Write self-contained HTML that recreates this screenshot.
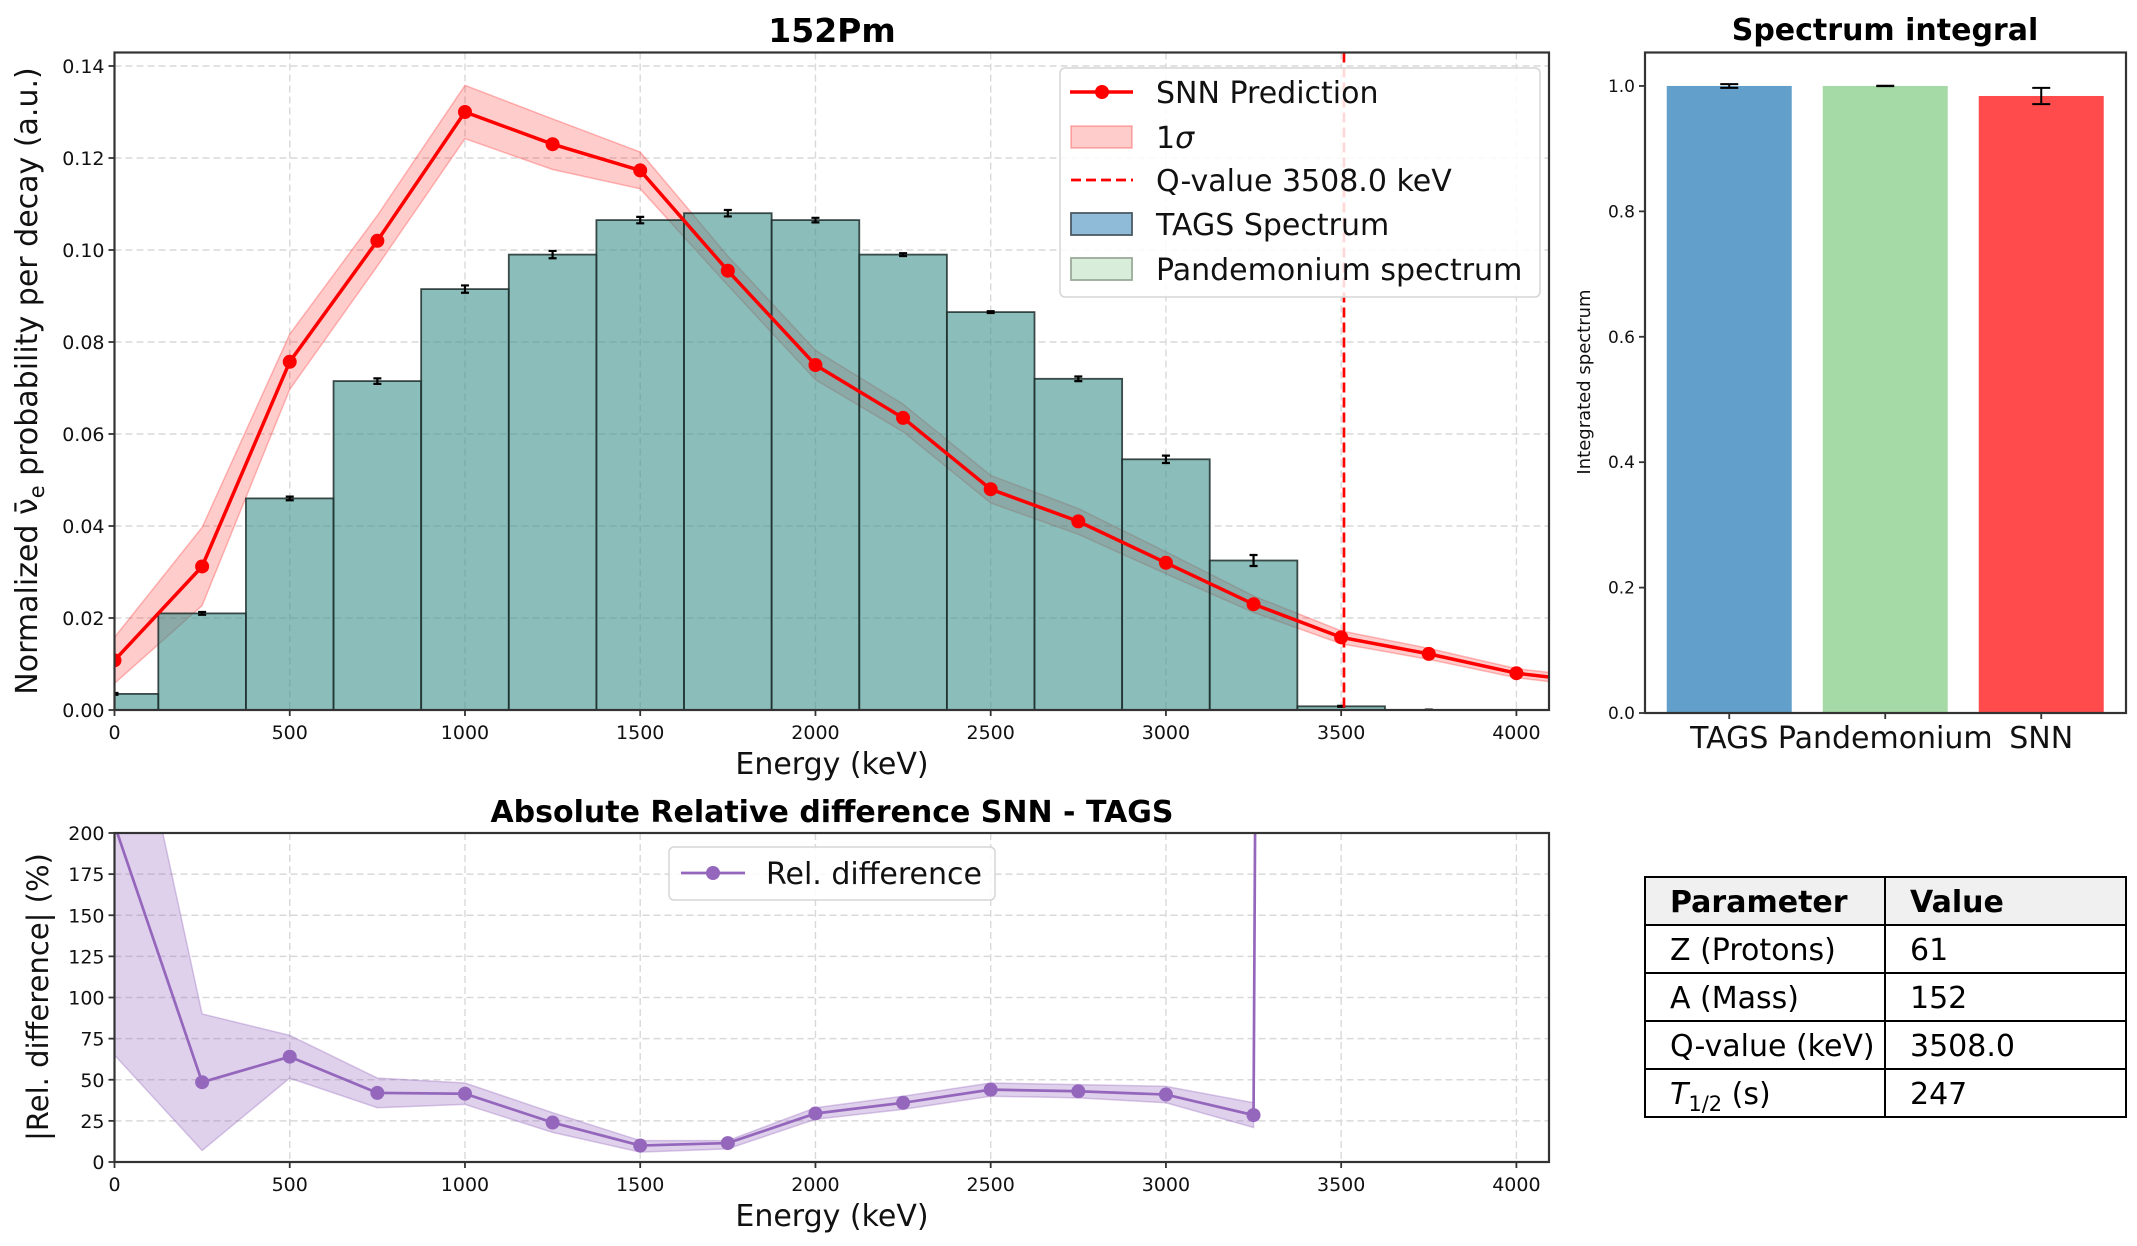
<!DOCTYPE html>
<html><head><meta charset="utf-8"><style>
html,body{margin:0;padding:0;background:#fff;}
svg{display:block;font-family:"DejaVu Sans","Liberation Sans",sans-serif;}
</style></head><body>
<svg id="fig" width="2137" height="1246" viewBox="0 0 2137 1246" xmlns="http://www.w3.org/2000/svg"></svg>
<script>
// ---- data ----
const energies = [0,250,500,750,1000,1250,1500,1750,2000,2250,2500,2750,3000,3250,3500,3750,4000,4250];
const snnValues = [0.0108,0.0312,0.0757,0.102,0.130,0.123,0.1173,0.0955,0.075,0.0635,0.048,0.041,0.032,0.023,0.0158,0.0122,0.008,0.0058];
const snnSigma = [0.005,0.0085,0.006,0.0055,0.0058,0.0055,0.004,0.0032,0.0032,0.003,0.003,0.0028,0.0024,0.0018,0.0014,0.0012,0.001,0.001];
const tagsCenters = [0,250,500,750,1000,1250,1500,1750,2000,2250,2500,2750,3000,3250,3500,3750];
const tagsValues = [0.0035,0.021,0.046,0.0715,0.0915,0.099,0.1065,0.108,0.1065,0.099,0.0865,0.072,0.0545,0.0325,0.0008,0.0];
const tagsErr = [0.0002,0.0003,0.0004,0.0006,0.0008,0.0008,0.0007,0.0007,0.0005,0.0003,0.0002,0.0005,0.0008,0.0012,0.0001,0.0001];
const mainYTicks = [0,0.02,0.04,0.06,0.08,0.10,0.12,0.14];
const mainYTickLabels = ["0.00","0.02","0.04","0.06","0.08","0.10","0.12","0.14"];
const xTicks = [0,500,1000,1500,2000,2500,3000,3500,4000];
const qValue = 3508;
const relEnergies = [0,250,500,750,1000,1250,1500,1750,2000,2250,2500,2750,3000,3250,3500];
const relValues = [205,48.5,64,42,41.5,24,10,11.5,29.5,36,44,43,41,28.5,10000];
const relLower = [65,7,51,33,35,18,6,8,26,32,40,39,36,21,9000];
const relUpper = [335,90,77,51,48,30,13,13,33,40,48,47,46,36,11000];
const relYTicks = [0,25,50,75,100,125,150,175,200];
const intCategories = ["TAGS","Pandemonium","SNN"];
const intValues = [1.0,1.0,0.984];
const intErr = [0.003,0.0003,0.013];
const intColors = ["#629fca","#a5d9a5","#ff4b4b"];
const intYTicks = [0,0.2,0.4,0.6,0.8,1.0];
const intYTickLabels = ["0.0","0.2","0.4","0.6","0.8","1.0"];

const NS="http://www.w3.org/2000/svg";
const svg=document.getElementById('fig');
function mk(tag,attrs,parent){const e=document.createElementNS(NS,tag);for(const k in attrs)e.setAttribute(k,attrs[k]);(parent||svg).appendChild(e);return e;}
function txt(s,attrs,parent){const e=mk('text',attrs,parent);e.textContent=s;return e;}

// ---- main axes ----
const M={l:114.5,r:1549,t:52.5,b:710};
const xS=v=>M.l+(v-0)*(M.r-M.l)/4093;
const yS=v=>M.b-(v/0.14)*(M.b-66);
const gMain=mk('g',{});


const clip=mk('clipPath',{id:'cm'},gMain);mk('rect',{x:M.l,y:M.t,width:M.r-M.l,height:M.b-M.t},clip);
xTicks.forEach(t=>{const l=mk('line',{x1:xS(t),x2:xS(t),y1:M.t,y2:M.b,stroke:'#d9d9d9','stroke-width':1.4,'stroke-dasharray':'7,4'},gMain);
});
mainYTicks.forEach(t=>{const l=mk('line',{x1:M.l,x2:M.r,y1:yS(t),y2:yS(t),stroke:'#d9d9d9','stroke-width':1.4,'stroke-dasharray':'7,4'},gMain);
});
const plotArea=mk('g',{'clip-path':'url(#cm)'},gMain);
let up='',lo='';
energies.forEach((e,i)=>{up+=(i?'L':'M')+xS(e)+','+yS(snnValues[i]+snnSigma[i]);});
for(let i=energies.length-1;i>=0;i--){lo+='L'+xS(energies[i])+','+yS(snnValues[i]-snnSigma[i]);}
const band=mk('path',{d:up+lo+'Z',fill:'rgba(255,0,0,0.2)',stroke:'rgba(255,0,0,0.25)','stroke-width':1.5},plotArea);

tagsCenters.forEach((c,i)=>{
 const x0=xS(c-125),x1=xS(c+125),y=yS(tagsValues[i]);
 const r=mk('rect',{x:x0,y:y,width:x1-x0,height:M.b-y,fill:'rgb(62,145,140)','fill-opacity':0.6,stroke:'#1f2f2d','stroke-opacity':0.85,'stroke-width':1.8},plotArea);
 
 const ex=xS(c),e1=yS(tagsValues[i]+tagsErr[i]),e2=yS(tagsValues[i]-tagsErr[i]);
 const eb=mk('path',{d:`M${ex},${e1}L${ex},${e2}M${ex-4},${e1}L${ex+4},${e1}M${ex-4},${e2}L${ex+4},${e2}`,stroke:'#000','stroke-width':2.2,fill:'none'},plotArea);
 
});
let lp='';energies.forEach((e,i)=>{lp+=(i?'L':'M')+xS(e)+','+yS(snnValues[i]);});
const ln=mk('path',{d:lp,fill:'none',stroke:'#ff0000','stroke-width':3.5},plotArea);

energies.forEach((e,i)=>{const c=mk('circle',{cx:xS(e),cy:yS(snnValues[i]),r:7,fill:'#ff0000'},plotArea);
});
const ql=mk('line',{x1:xS(qValue),x2:xS(qValue),y1:M.t,y2:M.b,stroke:'#ff0000','stroke-width':2.7,'stroke-dasharray':'10,5'},plotArea);

const fr=mk('rect',{x:M.l,y:M.t,width:M.r-M.l,height:M.b-M.t,fill:'none',stroke:'#333','stroke-width':2.2},gMain);

xTicks.forEach(t=>{mk('line',{x1:xS(t),x2:xS(t),y1:M.b,y2:M.b+6,stroke:'#333','stroke-width':1.8},gMain);
const l=txt(String(t),{x:xS(t),y:M.b+29,'font-size':19,'text-anchor':'middle',fill:'#111'},gMain);});
mainYTicks.forEach((t,i)=>{mk('line',{x1:M.l-6,x2:M.l,y1:yS(t),y2:yS(t),stroke:'#333','stroke-width':1.8},gMain);
const l=txt(mainYTickLabels[i],{x:M.l-10,y:yS(t)+7,'font-size':19,'text-anchor':'end',fill:'#111'},gMain);});
const lg=mk('g',{},gMain);
mk('rect',{x:1060,y:68,width:480,height:229,rx:5,fill:'rgba(255,255,255,0.85)',stroke:'#d6d6d6','stroke-width':1.5},lg);
mk('line',{x1:1070,x2:1133,y1:92,y2:92,stroke:'#f00','stroke-width':3.5},lg);mk('circle',{cx:1102,cy:92,r:7,fill:'#f00'},lg);
mk('rect',{x:1071,y:126,width:61,height:22,fill:'rgba(255,0,0,0.2)',stroke:'rgba(255,0,0,0.3)','stroke-width':1.5},lg);
mk('line',{x1:1071,x2:1133,y1:180,y2:180,stroke:'#f00','stroke-width':2.7,'stroke-dasharray':'10,5'},lg);
mk('rect',{x:1071,y:213,width:61,height:22,fill:'#8fbbd9',stroke:'#4a5a66','stroke-width':1.8},lg);
mk('rect',{x:1071,y:258,width:61,height:22,fill:'#d9eeda',stroke:'#9aaa9a','stroke-width':1.8},lg);
[['SNN Prediction',92],['1σ',137],['Q-value 3508.0 keV',180],['TAGS Spectrum',224],['Pandemonium spectrum',269]].forEach(([s,y],i)=>{
 const t=txt('',{x:1156,y:y+11,'font-size':30,fill:'#111'},lg);
 
 if(i===1){const a=mk('tspan',{},t);a.textContent='1';const b=mk('tspan',{'font-style':'italic'},t);b.textContent='σ';}else t.textContent=s;});
let t1=txt('152Pm',{x:832,y:42,'font-size':33,'font-weight':'bold','text-anchor':'middle'},gMain);
t1=txt('Energy (keV)',{x:832,y:774,'font-size':30,'text-anchor':'middle',fill:'#111'},gMain);
t1=mk('text',{x:0,y:0,'font-size':30,'text-anchor':'middle',fill:'#111',transform:'translate(37,381) rotate(-90)'},gMain);

t1.appendChild(document.createTextNode('Normalized ν\u0304'));
{const s=mk('tspan',{'font-size':21,dy:7},t1);s.textContent='e';const s2=mk('tspan',{dy:-7},t1);s2.textContent=' probability per decay (a.u.)';}

// ---- relative difference axes ----
const R={l:114.5,r:1549,t:833,b:1162};
const ryS=v=>R.b-(v/200)*(R.b-R.t);
const gRel=mk('g',{});
const clip2=mk('clipPath',{id:'cr'},gRel);mk('rect',{x:R.l,y:R.t,width:R.r-R.l,height:R.b-R.t},clip2);
xTicks.forEach(t=>{const l=mk('line',{x1:xS(t),x2:xS(t),y1:R.t,y2:R.b,stroke:'#d9d9d9','stroke-width':1.4,'stroke-dasharray':'7,4'},gRel);});
relYTicks.forEach(t=>{const l=mk('line',{x1:R.l,x2:R.r,y1:ryS(t),y2:ryS(t),stroke:'#d9d9d9','stroke-width':1.4,'stroke-dasharray':'7,4'},gRel);});
const pa2=mk('g',{'clip-path':'url(#cr)'},gRel);
let u2='',l2='';relEnergies.forEach((e,i)=>{u2+=(i?'L':'M')+xS(e)+','+ryS(relUpper[i]);});
for(let i=relEnergies.length-1;i>=0;i--)l2+='L'+xS(relEnergies[i])+','+ryS(relLower[i]);
const b2=mk('path',{d:u2+l2+'Z',fill:'rgba(148,103,189,0.3)',stroke:'rgba(148,103,189,0.35)','stroke-width':1.5},pa2);

let p2='';relEnergies.forEach((e,i)=>{p2+=(i?'L':'M')+xS(e)+','+ryS(relValues[i]);});
const ln2=mk('path',{d:p2,fill:'none',stroke:'#9467bd','stroke-width':2.7},pa2);
relEnergies.forEach((e,i)=>{const c=mk('circle',{cx:xS(e),cy:ryS(relValues[i]),r:7,fill:'#9467bd'},pa2);});
const fr2=mk('rect',{x:R.l,y:R.t,width:R.r-R.l,height:R.b-R.t,fill:'none',stroke:'#333','stroke-width':2.2},gRel);
xTicks.forEach(t=>{mk('line',{x1:xS(t),x2:xS(t),y1:R.b,y2:R.b+6,stroke:'#333','stroke-width':1.8},gRel);
const l=txt(String(t),{x:xS(t),y:R.b+29,'font-size':19,'text-anchor':'middle',fill:'#111'},gRel);});
relYTicks.forEach(t=>{mk('line',{x1:R.l-6,x2:R.l,y1:ryS(t),y2:ryS(t),stroke:'#333','stroke-width':1.8},gRel);
const l=txt(String(t),{x:R.l-10,y:ryS(t)+7,'font-size':19,'text-anchor':'end',fill:'#111'},gRel);});
const lg2=mk('g',{},gRel);
mk('rect',{x:669,y:847,width:326,height:53,rx:5,fill:'rgba(255,255,255,0.85)',stroke:'#d6d6d6','stroke-width':1.5},lg2);
mk('line',{x1:681,x2:745,y1:873,y2:873,stroke:'#9467bd','stroke-width':2.7},lg2);mk('circle',{cx:713,cy:873,r:7,fill:'#9467bd'},lg2);
let t2=txt('Rel. difference',{x:766,y:884,'font-size':30,fill:'#111'},lg2);
t2=txt('Absolute Relative difference SNN - TAGS',{x:832,y:822,'font-size':30,'font-weight':'bold','text-anchor':'middle'},gRel);
t2=txt('Energy (keV)',{x:832,y:1226,'font-size':30,'text-anchor':'middle',fill:'#111'},gRel);
t2=txt('|Rel. difference| (%)',{x:0,y:0,'font-size':29,'text-anchor':'middle',fill:'#111',transform:'translate(48,997) rotate(-90)'},gRel);

// ---- integral bar chart ----
const I={l:1645,r:2126,t:52.5,b:713};
const iyS=v=>I.b-(v/1.05)*(I.b-54.6);
const ixS=i=>I.l+(i+0.54)*156;
const gInt=mk('g',{});
intCategories.forEach((c,i)=>{
 const x=ixS(i),y=iyS(intValues[i]);
 const r=mk('rect',{x:x-62.5,y:y,width:125,height:I.b-y,fill:intColors[i]},gInt);
 const e1=iyS(intValues[i]+intErr[i]),e2=iyS(intValues[i]-intErr[i]);
 const eb=mk('path',{d:`M${x},${e1}L${x},${e2}M${x-9},${e1}L${x+9},${e1}M${x-9},${e2}L${x+9},${e2}`,stroke:'#000','stroke-width':2,fill:'none'},gInt);
 mk('line',{x1:x,x2:x,y1:I.b,y2:I.b+6,stroke:'#333','stroke-width':1.8},gInt);
 const l=txt(c,{x:x,y:I.b+35,'font-size':30,'text-anchor':'middle',fill:'#111'},gInt);
});
intYTicks.forEach((t,i)=>{mk('line',{x1:I.l-6,x2:I.l,y1:iyS(t),y2:iyS(t),stroke:'#333','stroke-width':1.8},gInt);
const l=txt(intYTickLabels[i],{x:I.l-10,y:iyS(t)+6,'font-size':17,'text-anchor':'end',fill:'#111'},gInt);});
const fr3=mk('rect',{x:I.l,y:I.t,width:I.r-I.l,height:I.b-I.t,fill:'none',stroke:'#333','stroke-width':2.2},gInt);
let t3=txt('Spectrum integral',{x:1885,y:40,'font-size':30,'font-weight':'bold','text-anchor':'middle'},gInt);
t3=txt('Integrated spectrum',{x:0,y:0,'font-size':18,'text-anchor':'middle',fill:'#111',transform:'translate(1590,382) rotate(-90)'},gInt);

// ---- parameter table ----
const gT=mk('g',{});
const rowsY=[877,925,973,1021,1069,1117];
mk('rect',{x:1645,y:877,width:481,height:48,fill:'#f0f0f0'},gT);
for(let i=0;i<5;i++){mk('rect',{x:1645,y:rowsY[i],width:240,height:48,fill:'none',stroke:'#000','stroke-width':2},gT);mk('rect',{x:1885,y:rowsY[i],width:241,height:48,fill:'none',stroke:'#000','stroke-width':2},gT);}
const cells=[['Parameter','Value'],['Z (Protons)','61'],['A (Mass)','152'],['Q-value (keV)','3508.0'],['T','247']];
cells.forEach((r,i)=>{
 const y=rowsY[i]+35;
 const a=txt('',{x:1670,y:y,'font-size':30,fill:'#000','font-weight':i===0?'bold':'normal'},gT);
 
 if(i===4){const s1=mk('tspan',{'font-style':'italic'},a);s1.textContent='T';const s2=mk('tspan',{'font-size':21,dy:7},a);s2.textContent='1/2';const s3=mk('tspan',{dy:-7},a);s3.textContent=' (s)';}
 else a.textContent=r[0];
 const b=txt(r[1],{x:1910,y:y,'font-size':30,fill:'#000','font-weight':i===0?'bold':'normal'},gT);
 
});
</script>
</body></html>
